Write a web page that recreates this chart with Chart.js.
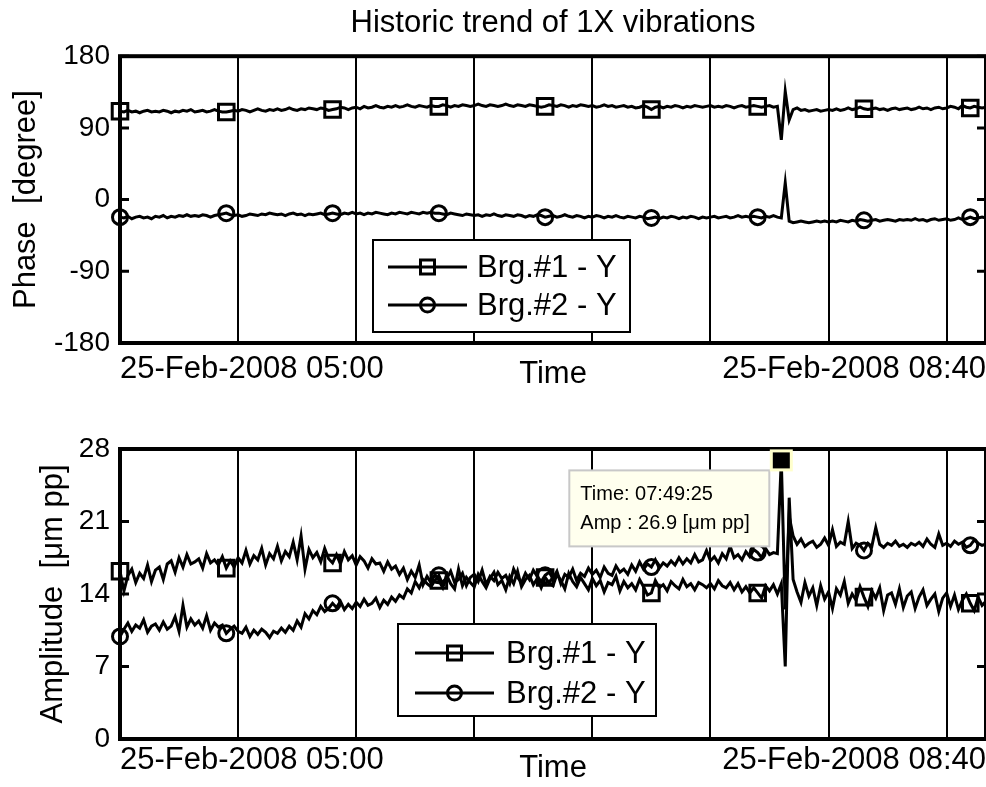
<!DOCTYPE html>
<html>
<head>
<meta charset="utf-8">
<script src="https://cdn.jsdelivr.net/npm/chart.js@4.4.1/dist/chart.umd.min.js"></script>
<style>
  html, body { margin: 0; padding: 0; background: #fff; }
  #wrap { position: relative; width: 986px; height: 787px; }
  canvas { position: absolute; left: 0; }
</style>
</head>
<body>
<div id="wrap">
  <canvas id="phaseChart" width="986" height="400" style="top:0"></canvas>
  <canvas id="ampChart" width="986" height="387" style="top:400px"></canvas>
</div>
<script>
// ---- data (one sample per minute, minute 0 = 05:00) ----
const chartTitle = 'Historic trend of 1X vibrations';
const seriesNames = ['Brg.#1 - Y', 'Brg.#2 - Y'];
const timeTickLabels = ['25-Feb-2008 05:00', '25-Feb-2008 08:40'];
const gridMinutes = [0, 30, 60, 90, 120, 150, 180, 210, 220];
const phaseTicks = [-180, -90, 0, 90, 180];
const ampTicks = [0, 7, 14, 21, 28];
const datatipLines = ['Time: 07:49:25', 'Amp : 26.9 [\u03bcm pp]'];

const phase1 = [
  111, 110, 112, 110, 111, 109, 111, 112, 110, 111,
  110, 112, 111, 109, 111, 110, 112, 111, 113, 110,
  111, 112, 110, 111, 113, 111, 110, 110, 111, 112,
  111, 113, 112, 110, 112, 114, 112, 111, 113, 112,
  114, 112, 113, 115, 113, 112, 114, 113, 115, 114,
  113, 115, 114, 112, 113, 114, 116, 115, 113, 115,
  116, 114, 117, 115, 116, 118, 116, 115, 117, 116,
  118, 116, 117, 119, 117, 116, 118, 117, 116, 118,
  117, 117, 119, 118, 116, 118, 117, 119, 118, 117,
  118, 120, 118, 117, 119, 118, 117, 118, 120, 118,
  117, 119, 118, 117, 119, 118, 117, 116, 117, 119,
  118, 117, 119, 118, 116, 118, 117, 119, 118, 117,
  118, 116, 117, 119, 117, 118, 116, 117, 118, 116,
  117, 115, 116, 118, 116, 113, 116, 117, 115, 117,
  116, 118, 117, 115, 117, 116, 118, 117, 116, 117,
  118, 116, 117, 116, 118, 117, 115, 117, 118, 116,
  117, 118, 117, 116, 117, 118, 116, 117, 75, 136,
  100, 113, 115, 112, 113, 111, 112, 113, 111, 112,
  113, 112, 114, 112, 113, 115, 113, 114, 116, 114,
  113, 114, 115, 113, 114, 112, 114, 115, 113, 114,
  115, 113, 114, 116, 114, 115, 113, 115, 116, 114,
  115, 117, 116, 114, 118, 116, 115, 117, 116, 115,
  116
];
const phase2 = [
  -22, -23, -21, -24, -22, -21, -23, -22, -24, -21,
  -22, -20, -23, -21, -22, -20, -21, -19, -21, -20,
  -21, -19, -20, -22, -20, -19, -18, -17, -19, -20,
  -19, -21, -20, -18, -19, -20, -18, -19, -17, -18,
  -19, -18, -20, -18, -17, -19, -18, -20, -18, -19,
  -18, -17, -19, -18, -17, -18, -19, -17, -18, -16,
  -18, -17, -19, -17, -18, -16, -17, -18, -19, -17,
  -18, -16, -17, -18, -16, -17, -18, -16, -17, -16,
  -17, -17, -18, -19, -17, -18, -19, -20, -18, -19,
  -20, -19, -21, -19, -20, -18, -20, -21, -19, -20,
  -21, -19, -20, -22, -20, -21, -19, -20, -22, -21,
  -20, -22, -21, -19, -21, -22, -20, -21, -23, -21,
  -22, -20, -21, -23, -21, -22, -20, -22, -23, -21,
  -22, -23, -21, -22, -24, -23, -22, -24, -22, -23,
  -21, -22, -24, -22, -23, -21, -22, -24, -22, -23,
  -22, -21, -23, -22, -21, -23, -22, -20, -22, -21,
  -22, -21, -22, -23, -21, -22, -20, -22, -23, 21,
  -27, -29, -28, -27, -28, -29, -28, -27, -28, -27,
  -28, -27, -28, -26, -27, -28, -26, -27, -25, -26,
  -27, -26, -25, -27, -26, -25, -26, -27, -25, -26,
  -25, -26, -24, -26, -25, -27, -25, -24, -26, -25,
  -24, -26, -25, -23, -25, -24, -22, -24, -23, -22,
  -23
];
const amp1 = [
  16.2, 14.3, 15.8, 16.4, 15.1, 16.0, 15.5, 16.8, 15.2, 16.3,
  16.6, 15.4, 16.9, 17.2, 16.1, 17.5, 16.6, 17.8, 16.9, 17.1,
  17.4, 16.5, 17.9, 17.0, 17.3, 16.8, 17.6, 16.5, 17.2, 16.6,
  17.5, 17.0, 18.2, 16.9, 17.7, 17.3, 18.4, 16.8, 17.9, 17.4,
  18.6, 17.2, 18.1, 17.6, 19.0, 17.3, 19.6, 16.4, 18.3, 17.5,
  18.0, 17.1, 18.4, 17.4, 17.0, 17.8, 16.9, 18.1, 17.3, 17.7,
  16.8, 17.6, 17.2, 16.5, 17.4, 16.9, 17.0, 16.2, 17.1, 16.4,
  16.7, 15.9, 16.5, 15.4, 16.2, 15.6, 16.8, 14.9, 15.7, 15.1,
  15.9, 15.3, 14.6, 15.8, 15.0, 14.5, 16.4, 14.8, 15.6, 15.1,
  14.7, 15.9, 15.2, 14.6, 15.5, 16.1, 14.9, 15.3, 14.4, 15.7,
  15.0, 16.2, 14.7, 15.4, 15.8, 14.9, 15.5, 14.6, 15.6, 15.1,
  14.8, 15.9, 15.3, 14.5, 16.0, 15.2, 14.7, 15.6, 15.0, 14.4,
  15.5, 14.8, 15.3, 14.2, 15.1, 14.9, 15.7, 14.3, 15.2, 14.6,
  15.0, 14.4, 15.4, 14.7, 13.9, 14.1, 15.3, 14.6, 14.9, 14.3,
  15.2, 14.8, 14.5, 15.4, 14.7, 15.0, 14.4, 15.1, 14.9, 14.6,
  15.0, 14.5, 15.3, 14.8, 14.6, 15.1, 14.4, 15.0, 14.2, 14.7,
  14.1, 14.6, 14.1, 13.6, 14.8, 14.3, 14.9, 14.0, 15.0, 7.0,
  23.3, 15.4, 14.2, 13.2, 15.1, 13.8, 14.6, 12.9, 14.8, 13.5,
  14.2, 12.6, 14.5, 13.9, 15.2, 13.1, 14.0, 13.4, 14.7, 13.7,
  12.8, 14.3, 13.6, 14.6, 12.4, 13.9, 14.1, 13.0, 14.5, 12.7,
  13.8, 14.2, 12.6, 13.7, 14.4, 12.9, 13.5, 14.0, 12.3, 13.6,
  14.1, 12.8, 13.9, 12.5, 13.4, 14.0, 13.1, 12.4, 13.7, 12.9,
  13.3
];
const amp2 = [
  9.9, 10.6, 11.2, 10.4, 11.0, 10.7, 11.5, 10.3, 10.9, 11.1,
  10.5, 11.3, 10.6, 10.9, 11.8, 10.4, 12.9, 10.8, 11.6, 11.0,
  11.4, 10.7, 11.9, 10.5, 11.2, 10.8, 11.0, 10.2, 10.6, 10.9,
  10.4, 10.2, 10.8, 9.9, 10.5, 10.1, 10.6, 10.3, 9.8, 10.4,
  10.2, 10.7, 10.3, 10.9, 10.5, 11.4, 10.8, 12.1, 11.6, 12.4,
  12.0, 12.8, 12.3, 12.6, 13.1, 12.7, 13.3, 12.5, 13.0, 12.6,
  13.2, 12.8, 13.5, 12.9, 13.1, 13.6, 12.7, 13.4, 13.0, 13.7,
  13.3, 13.9, 13.6, 14.5, 14.1, 15.2, 14.6, 15.4, 15.0, 14.7,
  15.3, 15.8, 14.9, 15.5, 16.2, 15.1, 15.4, 16.0, 14.8, 15.6,
  15.9, 15.2, 16.3, 14.9, 15.7, 15.3, 16.1, 15.5, 15.8, 15.0,
  16.4, 15.6, 15.1, 16.0, 15.4, 16.3, 15.7, 15.2, 15.8, 16.1,
  15.5, 16.2, 15.0, 15.9, 15.6, 16.4, 15.3, 16.0, 15.7, 16.5,
  15.9, 16.3, 15.6, 16.6, 16.0, 15.8, 16.7, 16.1, 16.4, 15.9,
  16.8, 16.2, 17.1, 16.4, 16.9, 16.6, 17.3, 16.5, 17.0, 16.7,
  17.2, 16.8, 17.5, 16.9, 17.4, 17.0, 17.8, 17.1, 17.3, 18.2,
  17.2, 17.6, 17.0, 17.9, 17.4, 18.6, 17.5, 17.8, 17.3, 18.1,
  17.6, 18.3, 18.0, 17.5, 18.4, 17.8, 18.0, 17.9, 26.9, 12.5,
  21.5, 19.6, 18.8, 19.3, 18.6, 18.9, 19.1, 18.5, 18.8, 19.4,
  18.7, 20.2, 18.6, 19.0, 18.8, 21.0, 18.4, 18.9, 18.7, 18.2,
  18.9, 18.6, 20.4, 18.8, 18.5, 18.9, 18.7, 19.1, 18.6, 18.8,
  18.5, 18.9, 18.7, 19.0, 18.6, 19.3, 18.8, 18.5, 19.8, 18.7,
  18.9, 18.6, 19.1, 18.8, 19.0, 18.5, 18.7, 19.2, 18.9, 18.7,
  18.8
];

// ---- styling helpers ----
const FONT = '"Liberation Sans", Arial, Helvetica, sans-serif';
const MARKER_EVERY = 27;

function toPoints(values) {
    return values.map((v, i) => ({ x: i, y: v }));
}

function markerRadius(r) {
    return ctx => (ctx.dataIndex % MARKER_EVERY === 0 ? r : 0);
}

function makeDatasets(s1, s2) {
    const common = {
        borderColor: '#000',
        borderWidth: 3,
        pointBorderColor: '#000',
        pointBackgroundColor: 'rgba(0,0,0,0)',
        pointBorderWidth: 3,
        pointHoverRadius: 0,
        tension: 0,
        clip: false
    };
    return [
        Object.assign({}, common, { label: seriesNames[0], data: toPoints(s1), pointStyle: 'rect', pointRadius: markerRadius(11) }),
        Object.assign({}, common, { label: seriesNames[1], data: toPoints(s2), pointStyle: 'circle', pointRadius: markerRadius(7.5) })
    ];
}

// box frame + inward ticks like the original axes
const frameBox = {
    id: 'frameBox',
    afterDatasetsDraw(chart) {
        const { ctx, chartArea: a } = chart;
        const y = chart.scales.y;
        ctx.save();
        ctx.strokeStyle = '#000';
        ctx.lineWidth = 3;
        y.ticks.forEach(t => {
            const py = y.getPixelForValue(t.value);
            ctx.beginPath();
            ctx.moveTo(a.left, py); ctx.lineTo(a.left + 9, py);
            ctx.moveTo(a.right - 9, py); ctx.lineTo(a.right, py);
            ctx.stroke();
        });
        ctx.lineWidth = 4;
        ctx.strokeRect(a.left, a.top, a.right - a.left, a.bottom - a.top);
        ctx.restore();
    }
};

// legend drawn as a boxed inset
const boxLegend = {
    id: 'boxLegend',
    afterDatasetsDraw(chart, args, o) {
        const ctx = chart.ctx;
        ctx.save();
        ctx.fillStyle = '#fff';
        ctx.fillRect(o.left, o.top, o.width, o.height);
        ctx.strokeStyle = '#000';
        ctx.lineWidth = 2;
        ctx.strokeRect(o.left, o.top, o.width, o.height);
        chart.data.datasets.forEach((ds, i) => {
            const ry = o.rows[i];
            const mx = (o.lineFrom + o.lineTo) / 2;
            ctx.lineWidth = 3;
            ctx.beginPath();
            ctx.moveTo(o.lineFrom, ry);
            ctx.lineTo(o.lineTo, ry);
            ctx.stroke();
            ctx.beginPath();
            if (ds.pointStyle === 'rect') {
                ctx.rect(mx - 7, ry - 7, 14, 14);
            } else {
                ctx.arc(mx, ry, 7, 0, Math.PI * 2);
            }
            ctx.stroke();
            ctx.fillStyle = '#000';
            ctx.font = '31px ' + FONT;
            ctx.textBaseline = 'middle';
            ctx.fillText(ds.label, o.textX, ry + 1);
        });
        ctx.restore();
    }
};

// data tip at the maximum of a dataset
const dataTip = {
    id: 'dataTip',
    afterDraw(chart, args, o) {
        if (!o || !o.lines) return;
        const ds = chart.data.datasets[o.datasetIndex];
        const ys = ds.data.map(p => p.y);
        const idx = ys.indexOf(Math.max.apply(null, ys));
        const pt = chart.getDatasetMeta(o.datasetIndex).data[idx];
        const ctx = chart.ctx;
        const bx = pt.x - 12 - 200, by = pt.y + 10;
        ctx.save();
        ctx.fillStyle = '#ffffee';
        ctx.fillRect(bx, by, 200, 76);
        ctx.strokeStyle = '#c8c8c8';
        ctx.lineWidth = 2;
        ctx.strokeRect(bx, by, 200, 76);
        ctx.fillStyle = '#000';
        ctx.font = '20px ' + FONT;
        ctx.textBaseline = 'middle';
        ctx.fillText(o.lines[0], bx + 11, by + 24);
        ctx.fillText(o.lines[1], bx + 11, by + 53);
        ctx.fillStyle = '#ffffcc';
        ctx.fillRect(pt.x - 11.5, pt.y - 11, 23, 22);
        ctx.fillStyle = '#000';
        ctx.fillRect(pt.x - 8.5, pt.y - 8, 17, 16);
        ctx.restore();
    }
};

// tick padding would also be added to the right of the plot, so the
// label drop below the axis is done with the label line height instead
function xScale(labelLineHeight, axisHeight, titlePad) {
    return {
        type: 'linear',
        min: gridMinutes[0],
        max: gridMinutes[gridMinutes.length - 1],
        afterBuildTicks: s => { s.ticks = gridMinutes.map(v => ({ value: v })); },
        afterFit: s => { s.height = axisHeight; },
        grid: { color: '#000', lineWidth: 2, drawTicks: false },
        border: { display: false },
        ticks: {
            autoSkip: false,
            maxRotation: 0,
            align: 'inner',
            padding: 0,
            color: '#000',
            font: { family: FONT, size: 31, lineHeight: labelLineHeight },
            callback: v => {
                if (v === gridMinutes[0]) return timeTickLabels[0];
                if (v === gridMinutes[gridMinutes.length - 1]) return timeTickLabels[1];
                return '';
            }
        },
        title: {
            display: true,
            text: 'Time',
            color: '#000',
            font: { family: FONT, size: 31 },
            padding: { top: 0, bottom: titlePad }
        }
    };
}

function yScale(tickList, titleText, titlePad) {
    return {
        min: tickList[0],
        max: tickList[tickList.length - 1],
        afterBuildTicks: s => { s.ticks = tickList.map(v => ({ value: v })); },
        afterFit: s => { s.width = 120; },
        grid: { display: false, drawTicks: false },
        border: { display: false },
        ticks: { padding: 10, color: '#000', font: { family: FONT, size: 28 } },
        title: {
            display: true,
            text: titleText,
            color: '#000',
            font: { family: FONT, size: 31 },
            padding: { top: titlePad, bottom: 0 }
        }
    };
}

new Chart(document.getElementById('phaseChart'), {
    type: 'line',
    data: { datasets: makeDatasets(phase1, phase2) },
    plugins: [frameBox, boxLegend],
    options: {
        responsive: false,
        animation: false,
        events: [],
        layout: { autoPadding: false, padding: 0 },
        plugins: {
            legend: { display: false },
            tooltip: { enabled: false },
            title: {
                display: true,
                fullSize: false,
                text: chartTitle,
                color: '#000',
                font: { family: FONT, size: 31, weight: 'normal' },
                padding: { top: 5, bottom: 14 }
            },
            boxLegend: { left: 373, top: 240, width: 257, height: 92, rows: [267, 305], lineFrom: 388, lineTo: 467, textX: 477 }
        },
        scales: {
            x: xScale(1.72, 57, 7),
            y: yScale(phaseTicks, 'Phase  [degree]', 8)
        }
    }
});

new Chart(document.getElementById('ampChart'), {
    type: 'line',
    data: { datasets: makeDatasets(amp1, amp2) },
    plugins: [frameBox, boxLegend, dataTip],
    options: {
        responsive: false,
        animation: false,
        events: [],
        layout: { autoPadding: false, padding: { top: 49, left: 0, right: 0, bottom: 0 } },
        plugins: {
            legend: { display: false },
            tooltip: { enabled: false },
            boxLegend: { left: 398, top: 224, width: 258, height: 92, rows: [253, 293], lineFrom: 415, lineTo: 494, textX: 506 },
            dataTip: { datasetIndex: 1, lines: datatipLines }
        },
        scales: {
            x: xScale(1.4, 48, 0),
            y: yScale(ampTicks, 'Amplitude  [\u03bcm pp]', 35)
        }
    }
});
</script>
</body>
</html>
